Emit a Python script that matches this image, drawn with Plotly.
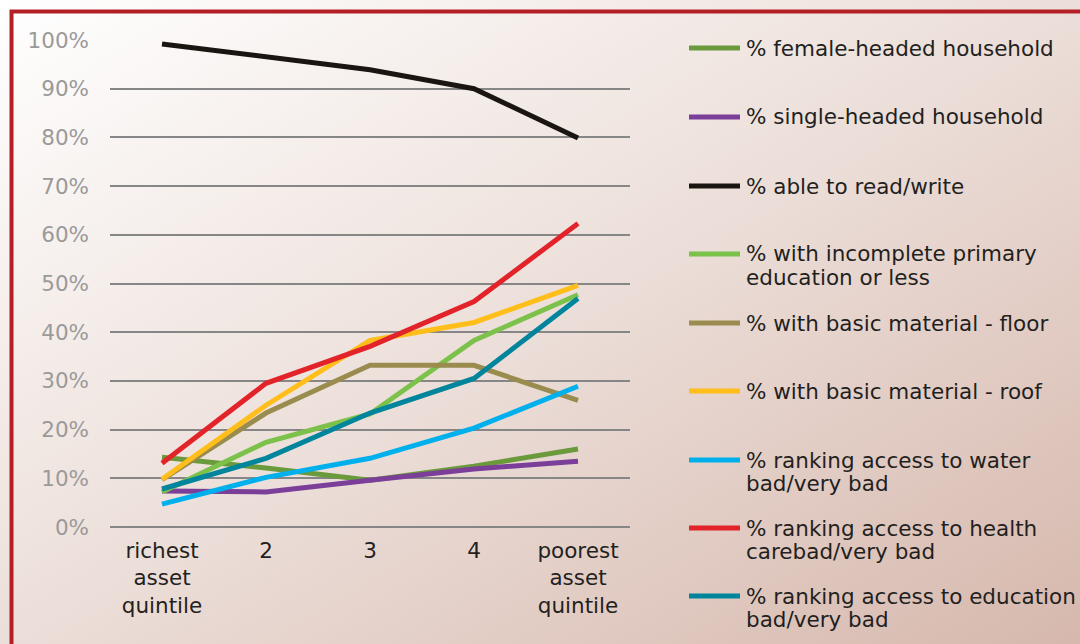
import base64
import plotly.graph_objects as go

categories = ["richest<br>asset<br>quintile", "2", "3", "4", "poorest<br>asset<br>quintile"]

female_headed = [0.143, 0.121, 0.096, 0.125, 0.160]
single_headed = [0.074, 0.072, 0.096, 0.119, 0.135]
read_write = [0.992, 0.965, 0.939, 0.900, 0.799]
incomplete_primary = [0.072, 0.174, 0.232, 0.383, 0.477]
basic_floor = [0.097, 0.234, 0.332, 0.332, 0.260]
basic_roof = [0.098, 0.250, 0.383, 0.420, 0.496]
water_bad = [0.047, 0.102, 0.141, 0.203, 0.289]
health_bad = [0.131, 0.295, 0.371, 0.463, 0.623]
education_bad = [0.078, 0.141, 0.234, 0.305, 0.469]

series_names = [
    ["% female-headed household"],
    ["% single-headed household"],
    ["% able to read/write"],
    ["% with incomplete primary", "education or less"],
    ["% with basic material - floor"],
    ["% with basic material - roof"],
    ["% ranking access to water", "bad/very bad"],
    ["% ranking access to health", "carebad/very bad"],
    ["% ranking access to education", "bad/very bad"],
]
series_values = [female_headed, single_headed, read_write, incomplete_primary,
                 basic_floor, basic_roof, water_bad, health_bad, education_bad]
series_colors = ["#6a9a3c", "#7b3f9a", "#1a1510", "#7cc14a", "#9a8c4e",
                 "#ffbe1a", "#00b0ec", "#e3232a", "#00859c"]

W, H = 1080, 644
L, R, T, B = 110, 450, 40, 117
PW, PH = W - L - R, H - T - B
FS = 21.5


def xp(px):
    return (px - L) / PW


def yp(py):
    return (H - B - py) / PH


fig = go.Figure()
for names, vals, col in zip(series_names, series_values, series_colors):
    fig.add_trace(go.Scatter(x=categories, y=vals, mode="lines", name=" ".join(names),
                             line=dict(color=col, width=5), showlegend=False))

# gradient background
svg = (f'<svg xmlns="http://www.w3.org/2000/svg" width="{W}" height="{H}" viewBox="0 0 {W} {H}" '
       f'preserveAspectRatio="none"><defs><linearGradient id="g" x1="0" y1="0" x2="1" y2="1">'
       f'<stop offset="0" stop-color="#ffffff"/><stop offset="0.45" stop-color="#eee2dd"/>'
       f'<stop offset="1" stop-color="#d6b8ad"/></linearGradient></defs>'
       f'<rect x="0" y="0" width="{W}" height="{H}" fill="url(#g)"/></svg>')
src = "data:image/svg+xml;base64," + base64.b64encode(svg.encode()).decode()

shapes = [dict(type="rect", xref="paper", yref="paper",
               x0=xp(11.5), y0=yp(11.5), x1=xp(W + 20), y1=yp(H + 20),
               line=dict(color="#b31f24", width=4), fillcolor="rgba(0,0,0,0)", layer="above")]
annotations = []
legend_y = [48, 117, 186, 254, 323, 391, 460, 528, 596]
for names, col, cy in zip(series_names, series_colors, legend_y):
    shapes.append(dict(type="line", xref="paper", yref="paper",
                       x0=xp(689), x1=xp(740), y0=yp(cy), y1=yp(cy),
                       line=dict(color=col, width=5)))
    for i, t in enumerate(names):
        annotations.append(dict(xref="paper", yref="paper", x=xp(744), y=yp(cy + 23 * i),
                                xanchor="left", yanchor="middle", text=t, showarrow=False,
                                font=dict(family="DejaVu Sans", size=FS, color="#231f20")))

fig.update_layout(
    width=W, height=H,
    margin=dict(l=L, r=R, t=T, b=B),
    paper_bgcolor="white",
    plot_bgcolor="rgba(0,0,0,0)",
    font=dict(family="DejaVu Sans", size=FS, color="#231f20"),
    images=[dict(source=src, xref="paper", yref="paper", x=xp(0), y=yp(0),
                 sizex=W / PW, sizey=H / PH, xanchor="left", yanchor="top",
                 sizing="stretch", layer="below")],
    shapes=shapes,
    annotations=annotations,
    showlegend=False,
)
fig.update_xaxes(range=[-0.5, 4.5], showgrid=False, showline=False, zeroline=False,
                 ticks="", ticklabelstandoff=8,
                 tickfont=dict(family="DejaVu Sans", size=FS, color="#231f20"))
fig.update_yaxes(range=[0, 1], tickformat=".0%", dtick=0.1, showgrid=True,
                 gridcolor="#868686", gridwidth=2, zeroline=True, zerolinecolor="#868686",
                 zerolinewidth=2, showline=False, ticks="", ticklabelstandoff=20,
                 tickfont=dict(family="DejaVu Sans", size=FS, color="#9a9a9a"))

fig.write_html("out.html", config={"displayModeBar": False},
               post_script="document.body.style.margin='0px';document.body.style.overflow='hidden';")
